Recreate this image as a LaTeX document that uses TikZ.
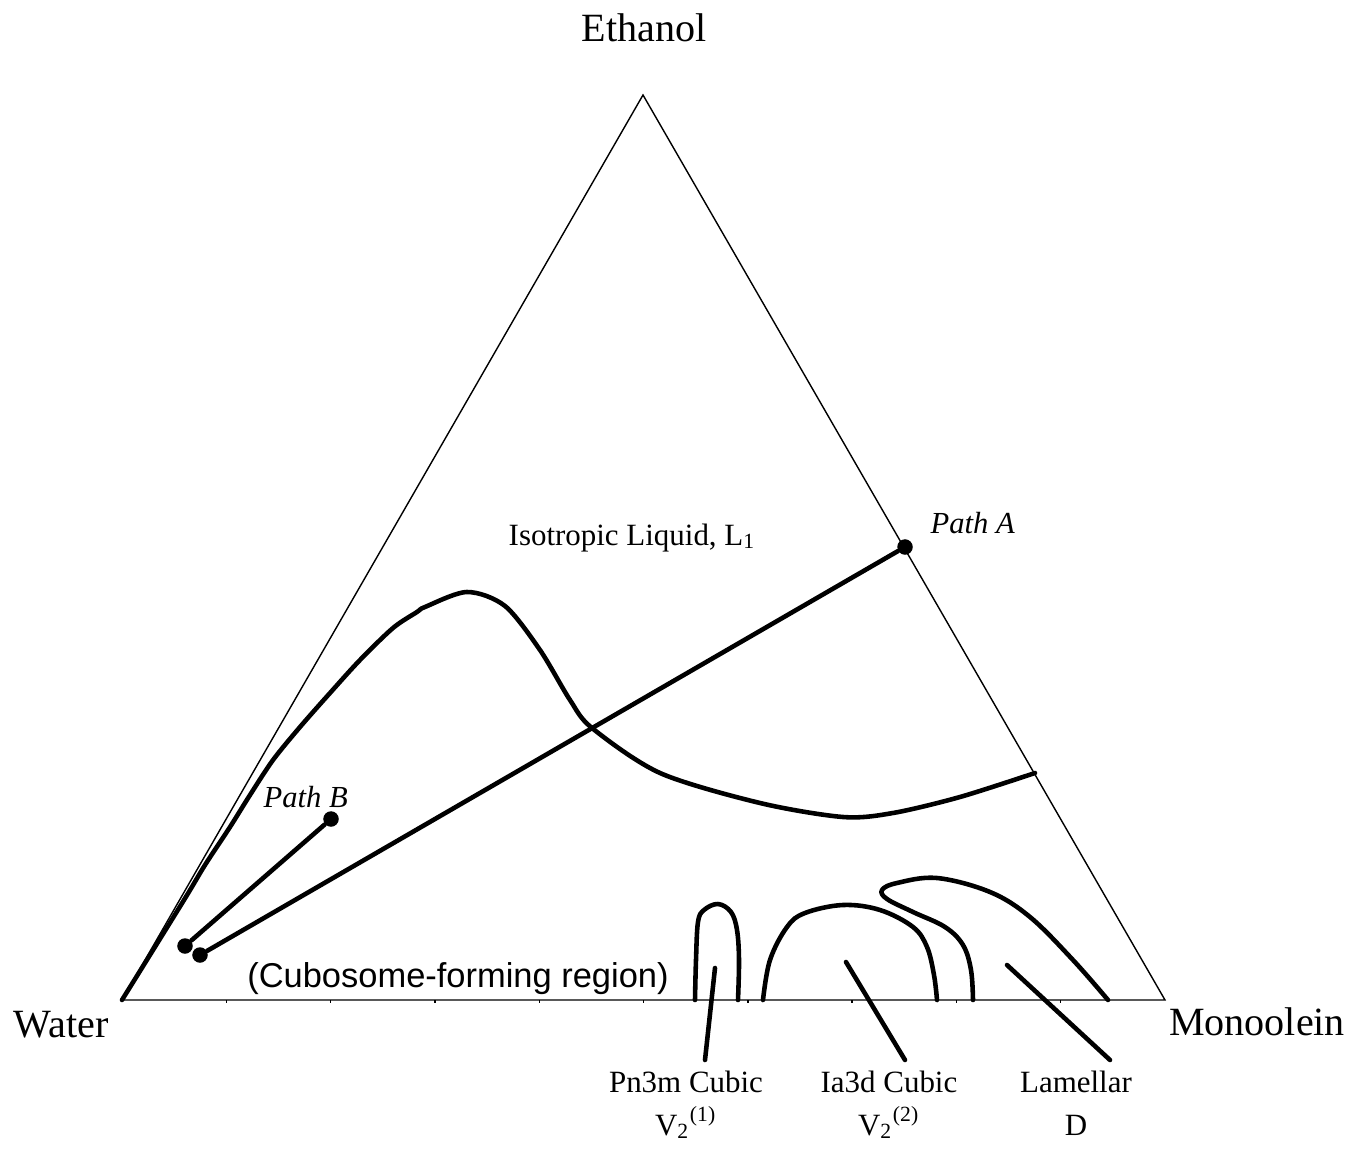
\documentclass[tikz,border=0pt]{standalone}
\usepackage{fontspec}
\setmainfont{Liberation Serif}
\newfontfamily\arialfont{Liberation Sans}
\usetikzlibrary{positioning}

\begin{document}
\begin{tikzpicture}
  [
    x=0.01cm, y=-0.01cm,
    Edge/.style={draw=black, line width=0.4pt},
    Boundary/.style={draw=black, line width=1.3pt, line cap=round, line join=round},
    Dot/.style={circle, fill=black, inner sep=0pt, minimum size=0.155cm},
    Corner/.style={font=\fontsize{11.4}{13}\selectfont, anchor=base, inner sep=0pt},
    Phase/.style={font=\fontsize{8.8}{12}\selectfont, anchor=base, align=center, inner sep=0pt},
    PathLabel/.style={font=\fontsize{8.7}{10}\selectfont\itshape, anchor=base west, inner sep=0pt}
  ]
  \useasboundingbox (0,0) rectangle (1354,1170);
  % Triangle
  \coordinate (water) at (122,1000);
  \coordinate (mono) at (1165,1000);
  \coordinate (eth) at (643,95);
  \draw[Edge] (water) -- (mono) -- (eth) -- cycle;
  \foreach \k in {1,...,9}
    \draw[Edge] ({122+104.3*\k},1000) -- ++(0,3);
  % Corner labels
  \node[Corner] (ethLabel) at (644,42) {Ethanol};
  \node[Corner] (waterLabel) at (61,1037) {Water};
  \node[Corner] (monoLabel) at (1257,1035) {Monoolein};
  % Region labels
  \node[Phase, anchor=base west] (isoLabel) at (508,545) {Isotropic Liquid, L\textsubscript{1}};
  \node[anchor=base, inner sep=0pt, font=\arialfont\fontsize{9.8}{11}\selectfont] (cuboLabel) at (458,987) {(Cubosome-forming region)};
  % Boundary of L1
  \draw[Boundary] plot[smooth, tension=0.5] coordinates {
    (122,1000) (184,900) (205,865) (230,827) (250,795) (273,760) (300,727) (330,693)
    (360,660) (393,628) (417,612) (425,607) (467,592) (505,606) (540,650) (570,700)
    (592,728) (660,773) (760,803) (843,817) (893,813) (960,797) (1035,773)};
  % Paths
  \node[Dot] (pathAtop) at (905,547) {};
  \node[Dot] (pathAend) at (200,955) {};
  \node[Dot] (pathBtop) at (331,819) {};
  \node[Dot] (pathBend) at (185,946) {};
  \draw[Boundary] (pathAtop) -- (pathAend);
  \draw[Boundary] (pathBtop) -- (pathBend);
  \node[PathLabel] (pathAlabel) at (930,533) {Path A};
  \node[PathLabel] (pathBlabel) at (263,807) {Path B};
  % Liquid crystal phases
  \draw[Boundary] plot[smooth, tension=0.6] coordinates {
    (695,1000) (696,960) (698,922) (704,910) (718,904) (731,912) (737,930) (739,960) (738,1000)};
  \draw[Boundary] plot[smooth, tension=0.6] coordinates {
    (763,1000) (770,960) (787,927) (805,913) (843,905) (880,910) (913,927) (927,947) (934,975) (937,1000)};
  \draw[Boundary] plot[smooth, tension=0.6] coordinates {
    (973,1000) (971,970) (963,945) (945,927) (913,912) (887,899) (882,890) (897,883)
    (937,878) (990,892) (1030,917) (1073,960) (1108,1000)};
  % Phase names
  \node[Phase] (pnLabel) at (686,1135) {Pn3m Cubic\\V\textsubscript{2}\textsuperscript{(1)}};
  \node[Phase] (iaLabel) at (889,1135) {Ia3d Cubic\\V\textsubscript{2}\textsuperscript{(2)}};
  \node[Phase] (lamLabel) at (1076,1135) {Lamellar\\D};
  \coordinate (pnTip) at (715,968);
  \coordinate (pnFoot) at (705,1060);
  \coordinate (iaTip) at (846,962);
  \coordinate (iaFoot) at (905,1060);
  \coordinate (lamTip) at (1007,965);
  \coordinate (lamFoot) at (1110,1060);
  \draw[Boundary] (pnTip) -- (pnFoot);
  \draw[Boundary] (iaTip) -- (iaFoot);
  \draw[Boundary] (lamTip) -- (lamFoot);
\end{tikzpicture}
\end{document}
